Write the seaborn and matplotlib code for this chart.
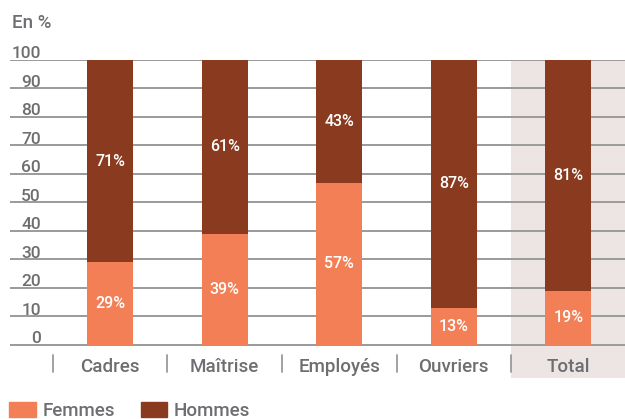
import matplotlib
matplotlib.use('Agg')
import seaborn as sns
import matplotlib.pyplot as plt
from matplotlib.patches import Patch
import pandas as pd

categories = ["Cadres", "Maîtrise", "Employés", "Ouvriers", "Total"]
femmes = [29, 39, 57, 13, 19]
hommes = [71, 61, 43, 87, 81]
yTicks = [0, 10, 20, 30, 40, 50, 60, 70, 80, 90, 100]

colFemmes = "#F37F57"
colHommes = "#8A3A1E"
colShade = "#EDE5E3"
colText = "#6D6E71"
colGrid = "#9A9A9A"

sns.set_theme(style="white")
plt.rcParams['font.family'] = ['Roboto', 'DejaVu Sans']
plt.rcParams['font.weight'] = 'medium'

df = pd.DataFrame({"cat": categories, "femmes": femmes, "hommes": hommes})
df["total"] = df["femmes"] + df["hommes"]

fig = plt.figure(figsize=(6.25, 4.19), dpi=100)
ax = fig.add_axes([10/625, 1-378/419, 615/625, 318/419])

ax.axvspan(3.5, 10, color=colShade, zorder=0, lw=0)
for v in yTicks:
	ax.axhline(v, color=colGrid, lw=1.4, zorder=1)
	ax.text(31/615, v+0.6, str(v), transform=ax.get_yaxis_transform(), ha="right", va="baseline",
		fontsize=12.5, color=colText)

sns.barplot(ax=ax, data=df, x="cat", y="total", color=colHommes, width=0.4, saturation=1, linewidth=0, zorder=2)		#Hommes stacked on top
sns.barplot(ax=ax, data=df, x="cat", y="femmes", color=colFemmes, width=0.4, saturation=1, linewidth=0, zorder=3)	#Femmes at the bottom

for i, row in df.iterrows():
	ax.text(i, row["femmes"]/2, f"{row['femmes']}%", ha="center", va="center", color="white", fontsize=11.5, zorder=4)
	ax.text(i, row["femmes"] + row["hommes"]/2, f"{row['hommes']}%", ha="center", va="center", color="white", fontsize=11.5, zorder=4)
	ax.text(i, -7.8, row["cat"], ha="center", va="center", color=colText, fontsize=13.5)
	ax.plot([i-0.5, i-0.5], [-3.5, -9.5], color=colGrid, lw=1.3, clip_on=False)

ax.set_xlim(-0.873, 4.494)
ax.set_ylim(-11.6, 100)
ax.set_xticks([])
ax.set_yticks([])
ax.set_xlabel("")
ax.set_ylabel("")
for s in ax.spines.values():
	s.set_visible(False)

fig.text(12/625, 1-23/419, "En %", ha="left", va="center", fontsize=13.5, color=colText)

handles = [Patch(color=colFemmes, label="Femmes"), Patch(color=colHommes, label="Hommes")]
fig.legend(handles=handles, loc="upper left", bbox_to_anchor=(0.0, 1-393/419), frameon=False, ncol=2,
	fontsize=13.5, handlelength=1.4, handleheight=0.85, handletextpad=0.35, columnspacing=1.4, borderpad=0,
	labelcolor=colText)

plt.savefig("out.png", dpi=100)
plt.close("all")
